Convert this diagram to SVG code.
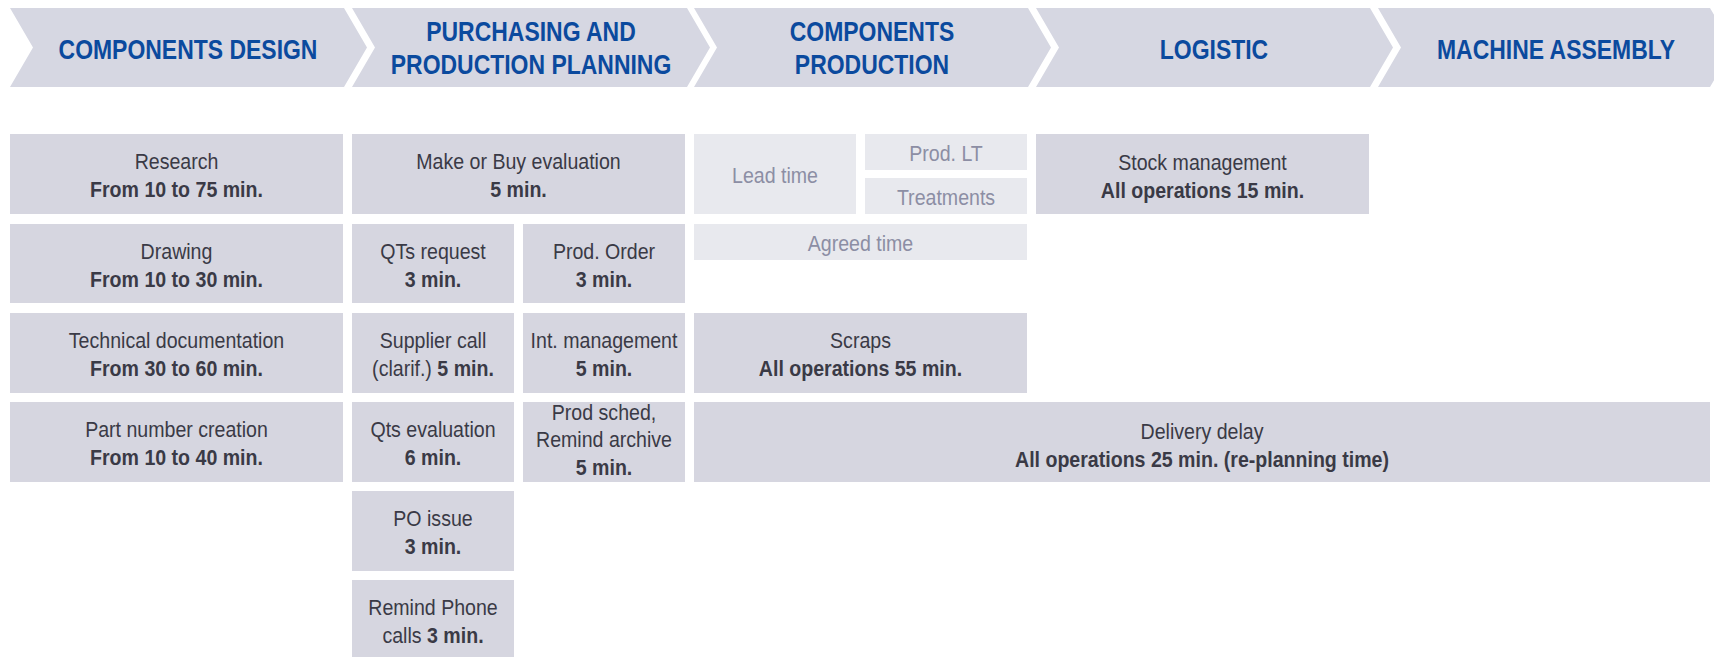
<svg xmlns="http://www.w3.org/2000/svg" width="1714" height="657" viewBox="0 0 1714 657">
<style>
.chev{fill:#D6D7E2}
.box{fill:#D6D6E0}
.lbox{fill:#E8E9EE}
.hd{font-family:"Liberation Sans",Arial,sans-serif;font-size:28px;font-weight:bold;fill:#0B4A9E;text-anchor:middle}
.t{font-family:"Liberation Sans",Arial,sans-serif;font-size:22.5px;fill:#3A3A46;text-anchor:middle}
.lt{font-family:"Liberation Sans",Arial,sans-serif;font-size:22.5px;fill:#8C8EA4;text-anchor:middle}
.b{font-weight:bold}
</style>
<rect width="1714" height="657" fill="#FFFFFF"/>
<g id="phases">
<g id="phase-design">
<path class="chev" d="M10,8 L344,8 L367,47.5 L344,87 L10,87 L33,47.5 Z"/>
<text class="hd" transform="translate(188 58.5) scale(0.82 1)">COMPONENTS DESIGN</text>
</g>
<g id="phase-purchasing">
<path class="chev" d="M352,8 L687,8 L710,47.5 L687,87 L352,87 L375,47.5 Z"/>
<text class="hd" transform="translate(531 0) scale(0.82 1)"><tspan x="0" y="41.5">PURCHASING AND</tspan><tspan x="0" y="74.5">PRODUCTION PLANNING</tspan></text>
</g>
<g id="phase-production">
<path class="chev" d="M694,8 L1028,8 L1051,47.5 L1028,87 L694,87 L717,47.5 Z"/>
<text class="hd" transform="translate(872 0) scale(0.82 1)"><tspan x="0" y="41.5">COMPONENTS</tspan><tspan x="0" y="74.5">PRODUCTION</tspan></text>
</g>
<g id="phase-logistic">
<path class="chev" d="M1036,8 L1370,8 L1393,47.5 L1370,87 L1036,87 L1059,47.5 Z"/>
<text class="hd" transform="translate(1214 58.5) scale(0.82 1)">LOGISTIC</text>
</g>
<g id="phase-assembly">
<path class="chev" d="M1378,8 L1710,8 L1733,47.5 L1710,87 L1378,87 L1401,47.5 Z"/>
<text class="hd" transform="translate(1556 58.5) scale(0.82 1)">MACHINE ASSEMBLY</text>
</g>
</g>
<g id="connectors"/>
<g id="design-tasks">
<g id="research">
<rect class="box" x="10" y="134" width="333" height="80"/>
<text class="t" transform="translate(176.5 174) scale(0.87 1)"><tspan x="0" y="-5">Research</tspan><tspan x="0" y="23.5" class="b">From 10 to 75 min.</tspan></text>
</g>
<g id="drawing">
<rect class="box" x="10" y="224" width="333" height="79"/>
<text class="t" transform="translate(176.5 263.5) scale(0.87 1)"><tspan x="0" y="-5">Drawing</tspan><tspan x="0" y="23.5" class="b">From 10 to 30 min.</tspan></text>
</g>
<g id="tech-doc">
<rect class="box" x="10" y="313" width="333" height="80"/>
<text class="t" transform="translate(176.5 353) scale(0.87 1)"><tspan x="0" y="-5">Technical documentation</tspan><tspan x="0" y="23.5" class="b">From 30 to 60 min.</tspan></text>
</g>
<g id="part-number">
<rect class="box" x="10" y="402" width="333" height="80"/>
<text class="t" transform="translate(176.5 442) scale(0.87 1)"><tspan x="0" y="-5">Part number creation</tspan><tspan x="0" y="23.5" class="b">From 10 to 40 min.</tspan></text>
</g>
</g>
<g id="purchasing-tasks">
<g id="make-or-buy">
<rect class="box" x="352" y="134" width="333" height="80"/>
<text class="t" transform="translate(518.5 174) scale(0.87 1)"><tspan x="0" y="-5">Make or Buy evaluation</tspan><tspan x="0" y="23.5" class="b">5 min.</tspan></text>
</g>
<g id="qts-request">
<rect class="box" x="352" y="224" width="162" height="79"/>
<text class="t" transform="translate(433 263.5) scale(0.87 1)"><tspan x="0" y="-5">QTs request</tspan><tspan x="0" y="23.5" class="b">3 min.</tspan></text>
</g>
<g id="prod-order">
<rect class="box" x="523" y="224" width="162" height="79"/>
<text class="t" transform="translate(604 263.5) scale(0.87 1)"><tspan x="0" y="-5">Prod. Order</tspan><tspan x="0" y="23.5" class="b">3 min.</tspan></text>
</g>
<g id="supplier-call">
<rect class="box" x="352" y="313" width="162" height="80"/>
<text class="t" transform="translate(433 353) scale(0.87 1)"><tspan x="0" y="-5">Supplier call</tspan><tspan x="0" y="23.5">(clarif.) <tspan class="b">5 min.</tspan></tspan></text>
</g>
<g id="int-management">
<rect class="box" x="523" y="313" width="162" height="80"/>
<text class="t" transform="translate(604 353) scale(0.87 1)"><tspan x="0" y="-5">Int. management</tspan><tspan x="0" y="23.5" class="b">5 min.</tspan></text>
</g>
<g id="qts-evaluation">
<rect class="box" x="352" y="402" width="162" height="80"/>
<text class="t" transform="translate(433 442) scale(0.87 1)"><tspan x="0" y="-5">Qts evaluation</tspan><tspan x="0" y="23.5" class="b">6 min.</tspan></text>
</g>
<g id="prod-sched">
<rect class="box" x="523" y="402" width="162" height="80"/>
<text class="t" transform="translate(604 442) scale(0.87 1)"><tspan x="0" y="-22.5">Prod sched,</tspan><tspan x="0" y="5">Remind archive</tspan><tspan x="0" y="33" class="b">5 min.</tspan></text>
</g>
<g id="po-issue">
<rect class="box" x="352" y="491" width="162" height="80"/>
<text class="t" transform="translate(433 531) scale(0.87 1)"><tspan x="0" y="-5">PO issue</tspan><tspan x="0" y="23.5" class="b">3 min.</tspan></text>
</g>
<g id="remind-phone">
<rect class="box" x="352" y="580" width="162" height="80"/>
<text class="t" transform="translate(433 620) scale(0.87 1)"><tspan x="0" y="-5">Remind Phone</tspan><tspan x="0" y="23.5">calls <tspan class="b">3 min.</tspan></tspan></text>
</g>
</g>
<g id="production-tasks">
<g id="lead-time">
<rect class="lbox" x="694" y="134" width="162" height="80"/>
<text class="lt" transform="translate(775 182.5) scale(0.87 1)">Lead time</text>
</g>
<g id="prod-lt">
<rect class="lbox" x="865" y="134" width="162" height="36"/>
<text class="lt" transform="translate(946 161) scale(0.87 1)">Prod. LT</text>
</g>
<g id="treatments">
<rect class="lbox" x="865" y="178" width="162" height="36"/>
<text class="lt" transform="translate(946 205) scale(0.87 1)">Treatments</text>
</g>
<g id="agreed-time">
<rect class="lbox" x="694" y="224" width="333" height="36"/>
<text class="lt" transform="translate(860.5 250.5) scale(0.87 1)">Agreed time</text>
</g>
<g id="scraps">
<rect class="box" x="694" y="313" width="333" height="80"/>
<text class="t" transform="translate(860.5 353) scale(0.87 1)"><tspan x="0" y="-5.5">Scraps</tspan><tspan x="0" y="23" class="b">All operations 55 min.</tspan></text>
</g>
<g id="delivery-delay">
<rect class="box" x="694" y="402" width="1016" height="80"/>
<text class="t" transform="translate(1202 442) scale(0.87 1)"><tspan x="0" y="-3">Delivery delay</tspan><tspan x="0" y="25.5" class="b">All operations 25 min. (re-planning time)</tspan></text>
</g>
</g>
<g id="logistic-tasks">
<g id="stock-management">
<rect class="box" x="1036" y="134" width="333" height="80"/>
<text class="t" transform="translate(1202.5 174) scale(0.87 1)"><tspan x="0" y="-4.5">Stock management</tspan><tspan x="0" y="24" class="b">All operations 15 min.</tspan></text>
</g>
</g>
</svg>
